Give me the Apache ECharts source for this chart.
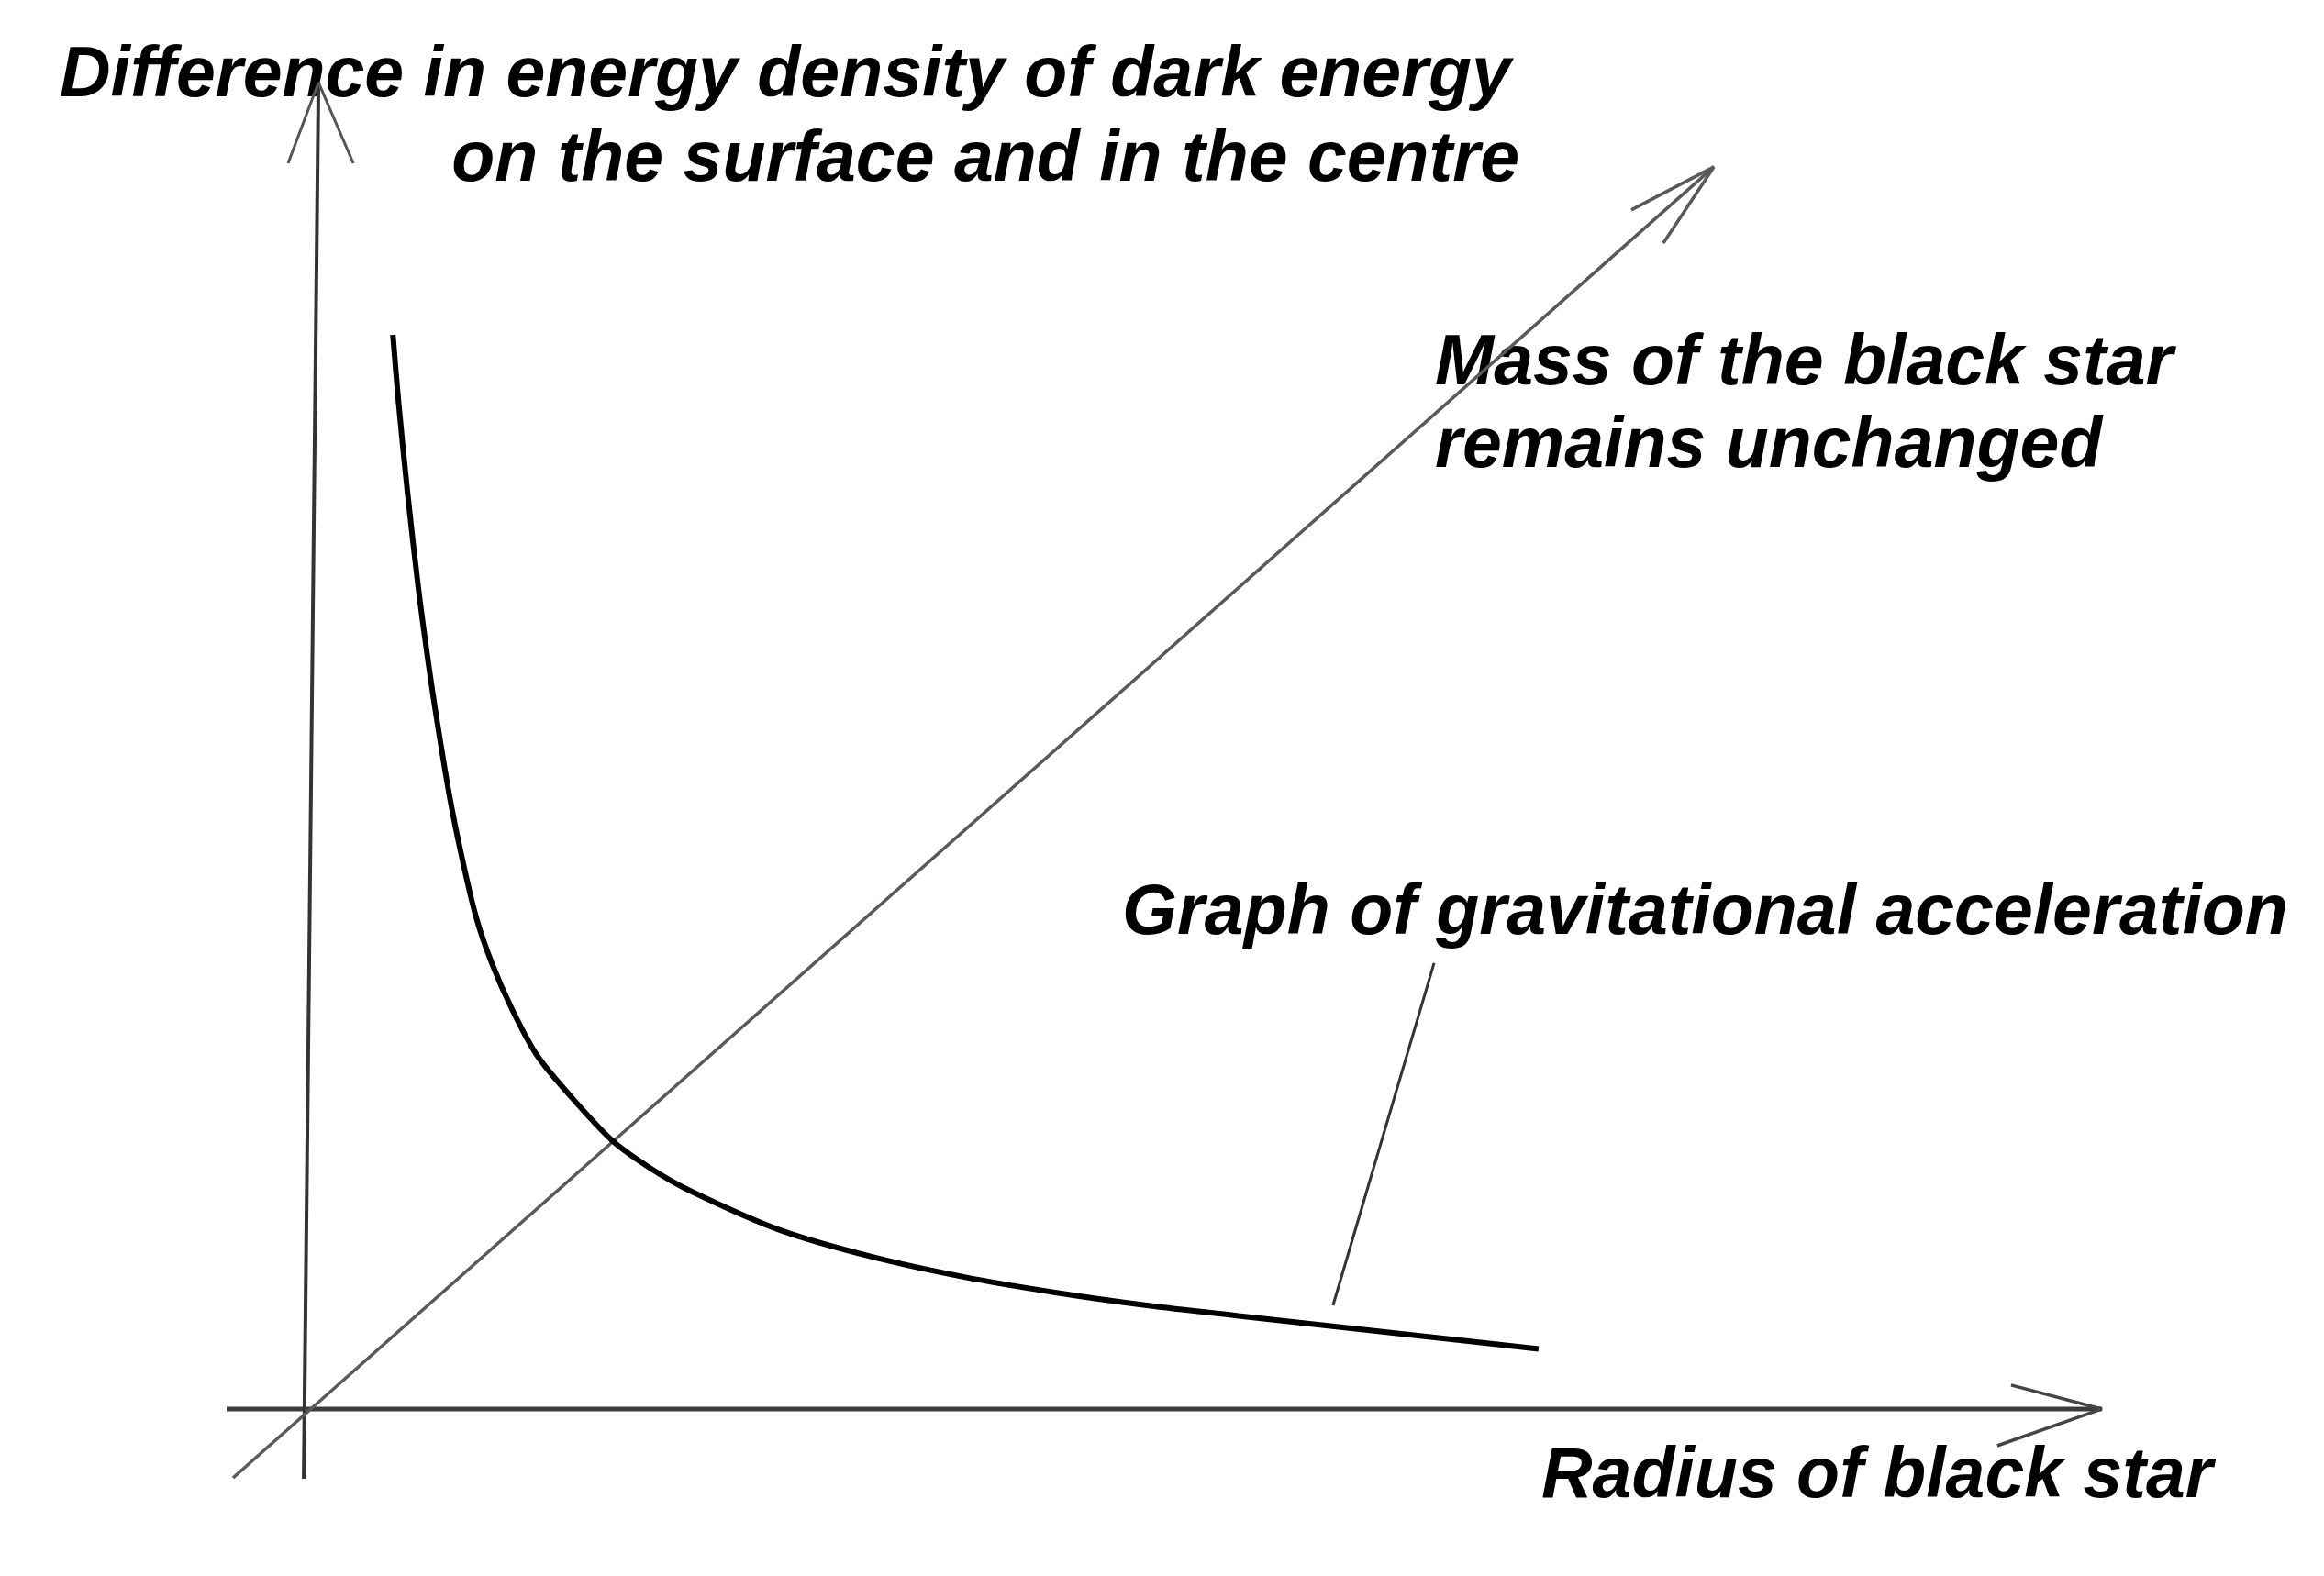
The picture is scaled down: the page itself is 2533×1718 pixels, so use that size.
<!DOCTYPE html>
<html>
<head>
<meta charset="utf-8">
<title>Black star</title>
<script src="https://cdn.jsdelivr.net/npm/echarts@6/dist/echarts.min.js"></script>
<style>
  html, body { margin: 0; padding: 0; background: #fff; }
  #chart { width: 2533px; height: 1718px; }
</style>
</head>
<body>
<div id="chart"></div>
<script>
// graph of gravitational acceleration
const curveX = [0.496, 0.528, 0.579, 0.637, 0.682, 0.731, 0.810, 0.878, 0.959, 1.046, 1.158, 1.296,
  1.475, 1.714, 1.924, 2.148, 2.648, 3.158, 3.668, 4.179, 4.689, 5.199, 5.709, 6.219, 6.867];
const curveY = [8.098, 7.580, 6.888, 6.196, 5.733, 5.277, 4.627, 4.170, 3.707, 3.361, 3.015, 2.669,
  2.372, 2.026, 1.819, 1.646, 1.349, 1.148, 0.996, 0.878, 0.781, 0.702, 0.626, 0.550, 0.453];

// axes drawn as lines: [x, y] end points, arrowheads as barb - tip - barb
const radiusAxis = [[-0.429, 0], [10, 0]];
const radiusArrow = [[9.495, 0.18], [10, 0], [9.418, -0.277]];
const energyAxis = [[0, -0.526], [0.082, 10]];
const energyArrow = [[-0.087, 9.391], [0.082, 10], [0.276, 9.391]];
const massAxis = [[-0.393, -0.519], [7.842, 9.364]];
const massArrow = [[7.383, 9.039], [7.842, 9.364], [7.561, 8.79]];
const leader = [[6.286, 3.361], [5.724, 0.781]];

// visible window of the plane around the origin
const xRange = [-1.689, 11.235];
const yRange = [-1.259, 10.622];

const curve = curveX.map((x, i) => [x, curveY[i]]);

const chart = echarts.init(document.getElementById('chart'));

function lineSeries(data, color, width, extra) {
  return Object.assign({
    type: 'line',
    data: data,
    showSymbol: false,
    silent: true,
    lineStyle: { color: color, width: width },
  }, extra || {});
}

const font = {
  fontFamily: '"Liberation Sans", Arial, sans-serif',
  fontWeight: 'bold',
  fontStyle: 'italic',
  fontSize: 77,
  fill: '#000',
  verticalAlign: 'middle',
};

function label(text, x, y, align) {
  return { type: 'text', x: x, y: y, style: Object.assign({ text: text, align: align || 'left' }, font) };
}

const hidden = {
  axisLine: { show: false }, axisTick: { show: false }, axisLabel: { show: false }, splitLine: { show: false },
};

chart.setOption({
  animation: false,
  backgroundColor: '#fff',
  grid: { left: 0, right: 0, top: 0, bottom: 0 },
  xAxis: Object.assign({ type: 'value', min: xRange[0], max: xRange[1] }, hidden),
  yAxis: Object.assign({ type: 'value', min: yRange[0], max: yRange[1] }, hidden),
  series: [
    lineSeries(radiusAxis, '#3c3c3c', 5),
    lineSeries(radiusArrow, '#444', 3.5),
    lineSeries(energyAxis, '#333', 4),
    lineSeries(energyArrow, '#555', 3),
    lineSeries(massAxis, '#595959', 3.5),
    lineSeries(massArrow, '#595959', 3.5),
    lineSeries(leader, '#333', 3),
    lineSeries(curve, '#000', 6, { smooth: 0.3 }),
  ],
  graphic: [
    label('Difference in energy density of dark energy', 65, 84),
    label('on the surface and in the centre', 1656, 176, 'right'),
    label('Mass of the black star', 1564, 398),
    label('remains unchanged', 1564, 488),
    label('Graph of gravitational acceleration', 1223, 997),
    label('Radius of black star', 1680, 1611),
  ],
});
</script>
</body>
</html>
